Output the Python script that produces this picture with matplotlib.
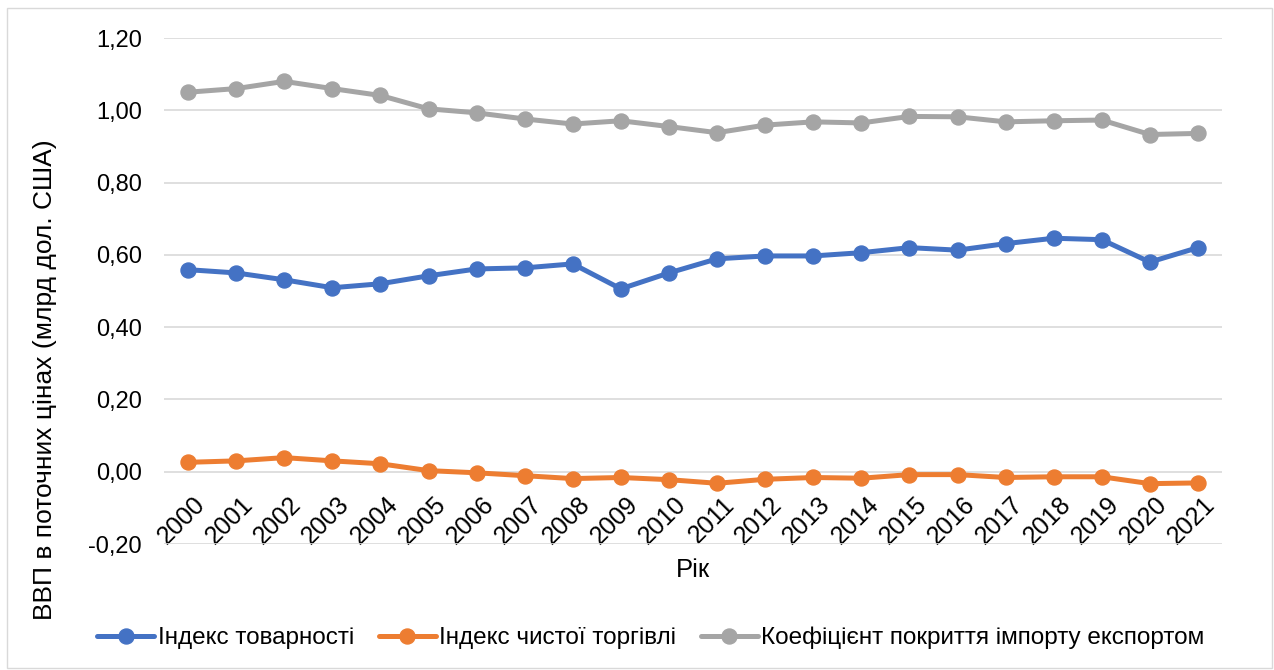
import matplotlib
matplotlib.use("Agg")
import matplotlib.pyplot as plt
from matplotlib.patches import Rectangle
from matplotlib.ticker import FuncFormatter
from matplotlib.transforms import ScaledTranslation

years = [str(y) for y in range(2000, 2022)]
commodity_index = [0.559, 0.550, 0.531, 0.509, 0.520, 0.542, 0.561, 0.564, 0.575, 0.506, 0.550,
                   0.589, 0.597, 0.597, 0.606, 0.620, 0.613, 0.631, 0.646, 0.642, 0.580, 0.620]
net_trade_index = [0.026, 0.030, 0.039, 0.030, 0.022, 0.003, -0.003, -0.011, -0.019, -0.016, -0.022,
                   -0.032, -0.021, -0.016, -0.018, -0.008, -0.008, -0.016, -0.014, -0.014, -0.033, -0.031]
coverage_ratio = [1.050, 1.060, 1.080, 1.060, 1.041, 1.004, 0.993, 0.976, 0.962, 0.971, 0.955,
                  0.938, 0.959, 0.968, 0.965, 0.983, 0.982, 0.968, 0.971, 0.973, 0.933, 0.936]
series_names = ["Індекс товарності", "Індекс чистої торгівлі", "Коефіцієнт покриття імпорту експортом"]
colors = ["#4472C4", "#ED7D31", "#A5A5A5"]
yticks = [-0.2, 0.0, 0.2, 0.4, 0.6, 0.8, 1.0, 1.2]

plt.rcParams['font.family'] = ['Liberation Sans', 'DejaVu Sans']

W, H = 1274, 670
fig = plt.figure(figsize=(W / 100, H / 100), dpi=100)
ax = fig.add_axes([164 / W, 1 - 544 / H, (1222 - 164) / W, (544 - 38) / H])

x = list(range(len(years)))
for vals, name, c in zip([commodity_index, net_trade_index, coverage_ratio], series_names, colors):
    ax.plot(x, vals, color=c, lw=3.6, marker='o', ms=10.8, label=name, solid_capstyle='round', zorder=3)

ax.set_xlim(-0.5, len(years) - 0.5)
ax.set_ylim(-0.2, 1.2)
ax.set_yticks(yticks)
ax.yaxis.set_major_formatter(FuncFormatter(lambda v, p: f"{v:.2f}".replace('.', ',').replace('-0,00', '0,00')))
ax.spines['bottom'].set_position(('data', 0))
ax.set_xticks(x)
ax.set_xticklabels(years, rotation=45, ha='right', va='top', rotation_mode='anchor')
ax.tick_params(axis='y', length=0, labelsize=17, colors='black', pad=16)
ax.tick_params(axis='x', length=0, labelsize=18, colors='black', pad=15)
offset = ScaledTranslation(5 / 100, 0, fig.dpi_scale_trans)
for lab in ax.get_xticklabels():
    lab.set_transform(lab.get_transform() + offset)
ax.grid(axis='y', color='#D9D9D9', lw=1.2)
ax.set_axisbelow(True)
for s in ax.spines.values():
    s.set_visible(False)

fig.text(693 / W, 1 - 570 / H, "Рік", ha='center', va='center', fontsize=18.5)
fig.text(45 / W, 1 - 380 / H, "ВВП в поточних цінах (млрд дол. США)", rotation=90,
         ha='center', va='center', fontsize=19)

leg = fig.legend(loc='center', bbox_to_anchor=(651 / W, 1 - 638 / H), ncol=3, frameon=False,
                 fontsize=17.5, handlelength=2.35, handletextpad=0.15, columnspacing=1.0,
                 borderpad=0, borderaxespad=0)

fig.patches.append(Rectangle((7 / W, 2 / H), (W - 9) / W, (H - 10) / H, transform=fig.transFigure,
                             fill=False, edgecolor='#D9D9D9', lw=1))

fig.savefig("out.png", dpi=100)
